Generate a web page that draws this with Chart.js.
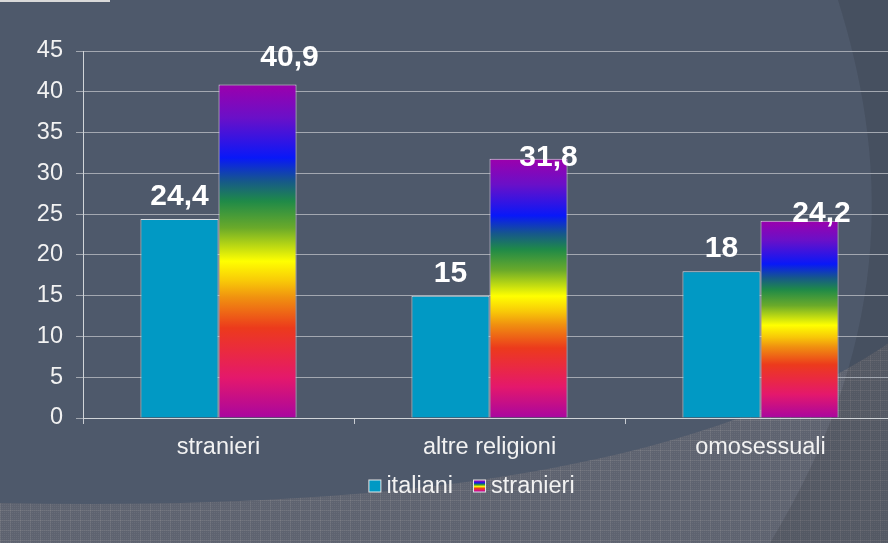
<!DOCTYPE html>
<html>
<head>
<meta charset="utf-8">
<script src="https://cdn.jsdelivr.net/npm/chart.js@4.4.1/dist/chart.umd.min.js"></script>
<style>
  html, body { margin: 0; padding: 0; overflow: hidden; background: #4e596b; }
  #chart { display: block; }
</style>
</head>
<body>
<canvas id="chart" width="900" height="543"></canvas>
<script>
const categories = ['stranieri', 'altre religioni', 'omosessuali'];
const italiani = [24.4, 15, 18];
const stranieri = [40.9, 31.8, 24.2];
const seriesNames = ['italiani', 'stranieri'];
const yTicks = { min: 0, max: 45, step: 5 };

const FONT = "'Liberation Sans', Arial, sans-serif";
const TEAL = '#0199c4';
const TEXT = '#f2f2f2';

// rainbow stops, top of bar to bottom
const rainbowStops = [
  [0.00, '#9c00ac'], [0.10, '#6a10c8'], [0.22, '#0818f8'], [0.29, '#16588a'],
  [0.35, '#1f8a48'], [0.43, '#6aaa2a'], [0.53, '#ffff00'], [0.59, '#f8c808'],
  [0.64, '#f09010'], [0.73, '#ec3a1c'], [0.80, '#ea2a40'], [0.88, '#e4186c'],
  [1.00, '#a806a0']
];

function rainbow(ctx, top, bottom) {
  const g = ctx.createLinearGradient(0, top, 0, bottom);
  rainbowStops.forEach(s => g.addColorStop(s[0], s[1]));
  return g;
}

function texture() {
  const c = document.createElement('canvas');
  c.width = 10; c.height = 10;
  const x = c.getContext('2d');
  x.fillStyle = '#5e6370';
  x.fillRect(0, 0, 10, 10);
  x.fillStyle = 'rgba(255,255,255,0.06)';
  for (let i = 0; i < 10; i += 2) {
    for (let j = 0; j < 10; j += 2) x.fillRect(i, j, 1, 1);
  }
  x.fillStyle = 'rgba(200,190,180,0.12)';
  x.fillRect(0, 0, 10, 1);
  x.fillRect(0, 0, 1, 10);
  return c;
}

const backdrop = {
  id: 'backdrop',
  beforeDraw(chart) {
    const ctx = chart.ctx;
    ctx.save();
    ctx.fillStyle = '#4e596b';
    ctx.fillRect(0, 0, chart.width, chart.height);
    // textured swoosh at the bottom
    ctx.beginPath();
    ctx.moveTo(0, 503);
    ctx.bezierCurveTo(350, 510, 700, 480, 900, 335);
    ctx.lineTo(900, 543);
    ctx.lineTo(0, 543);
    ctx.closePath();
    ctx.fillStyle = ctx.createPattern(texture(), 'repeat');
    ctx.fill();
    // darker band on the right
    ctx.beginPath();
    ctx.moveTo(838, 0);
    ctx.bezierCurveTo(885, 150, 900, 330, 770, 543);
    ctx.lineTo(900, 543);
    ctx.lineTo(900, 0);
    ctx.closePath();
    ctx.fillStyle = 'rgba(20,20,20,0.12)';
    ctx.fill();
    // strip in the top-left corner
    ctx.fillStyle = '#d9d9d9';
    ctx.fillRect(0, 0, 110, 2);
    ctx.restore();
  }
};

// value labels; stranieri labels sit a little to the right of their bars
const shiftX = [[0, 0, 0], [32, 20, 22]];
const shiftY = [[-22, -22, -22], [-27, -1, -7]];

const valueLabels = {
  id: 'valueLabels',
  afterDatasetsDraw(chart) {
    const ctx = chart.ctx;
    ctx.save();
    ctx.font = 'bold 30px ' + FONT;
    ctx.fillStyle = '#ffffff';
    ctx.textAlign = 'center';
    ctx.textBaseline = 'middle';
    chart.data.datasets.forEach((ds, di) => {
      chart.getDatasetMeta(di).data.forEach((bar, i) => {
        const txt = String(ds.data[i]).replace('.', ',');
        ctx.fillText(txt, bar.x + shiftX[di][i], bar.y + shiftY[di][i]);
      });
    });
    ctx.restore();
  }
};

// legend row under the category labels
const legendRow = {
  id: 'legendRow',
  afterDraw(chart) {
    const ctx = chart.ctx;
    const cy = 486, box = 13, gap = 5, between = 20;
    ctx.save();
    ctx.font = '23.5px ' + FONT;
    ctx.textBaseline = 'middle';
    const widths = seriesNames.map(n => box + gap + ctx.measureText(n).width);
    const total = widths.reduce((a, b) => a + b, 0) + between * (widths.length - 1);
    let x = 471.5 - total / 2;
    seriesNames.forEach((name, i) => {
      const top = cy - box / 2;
      ctx.fillStyle = '#e6e6e6';
      ctx.fillRect(x, top, box, box);
      ctx.fillStyle = i === 0 ? TEAL : rainbow(ctx, top + 1, top + box - 1);
      ctx.fillRect(x + 1, top + 1, box - 2, box - 2);
      ctx.fillStyle = TEXT;
      ctx.fillText(name, x + box + gap, cy + 1);
      x += widths[i] + between;
    });
    ctx.restore();
  }
};

new Chart(document.getElementById('chart'), {
  type: 'bar',
  data: {
    labels: categories,
    datasets: [
      {
        label: seriesNames[0],
        data: italiani,
        backgroundColor: TEAL,
        borderColor: '#d6dde4',
        borderWidth: 1
      },
      {
        label: seriesNames[1],
        data: stranieri,
        backgroundColor: (c) => {
          const chart = c.chart;
          if (!chart.chartArea || c.parsed === undefined) return '#8040c0';
          const y = chart.scales.y;
          return rainbow(chart.ctx, y.getPixelForValue(c.parsed.y), y.getPixelForValue(0));
        },
        borderColor: '#e2d2e6',
        borderWidth: 1
      }
    ]
  },
  options: {
    responsive: false,
    animation: false,
    layout: { padding: { top: 51, right: 4, bottom: 0, left: 0 } },
    datasets: { bar: { categoryPercentage: 0.576, barPercentage: 1 } },
    scales: {
      x: {
        afterFit: (s) => { s.height = 125; },
        grid: { drawOnChartArea: false, drawTicks: true, tickLength: 6, color: '#c8ccd2' },
        border: { color: '#d0d4d8', width: 1 },
        ticks: { color: TEXT, font: { family: FONT, size: 23.5 }, padding: 9 }
      },
      y: {
        min: yTicks.min,
        max: yTicks.max,
        afterFit: (s) => { s.width = 83; },
        grid: { color: '#a3a8b1', tickLength: 7, lineWidth: 1 },
        border: { color: '#d0d4d8', width: 1 },
        ticks: { stepSize: yTicks.step, color: TEXT, font: { family: FONT, size: 23.5 }, padding: 13 }
      }
    },
    plugins: {
      tooltip: { enabled: false },
      legend: { display: false }
    }
  },
  plugins: [backdrop, valueLabels, legendRow]
});
</script>
</body>
</html>
